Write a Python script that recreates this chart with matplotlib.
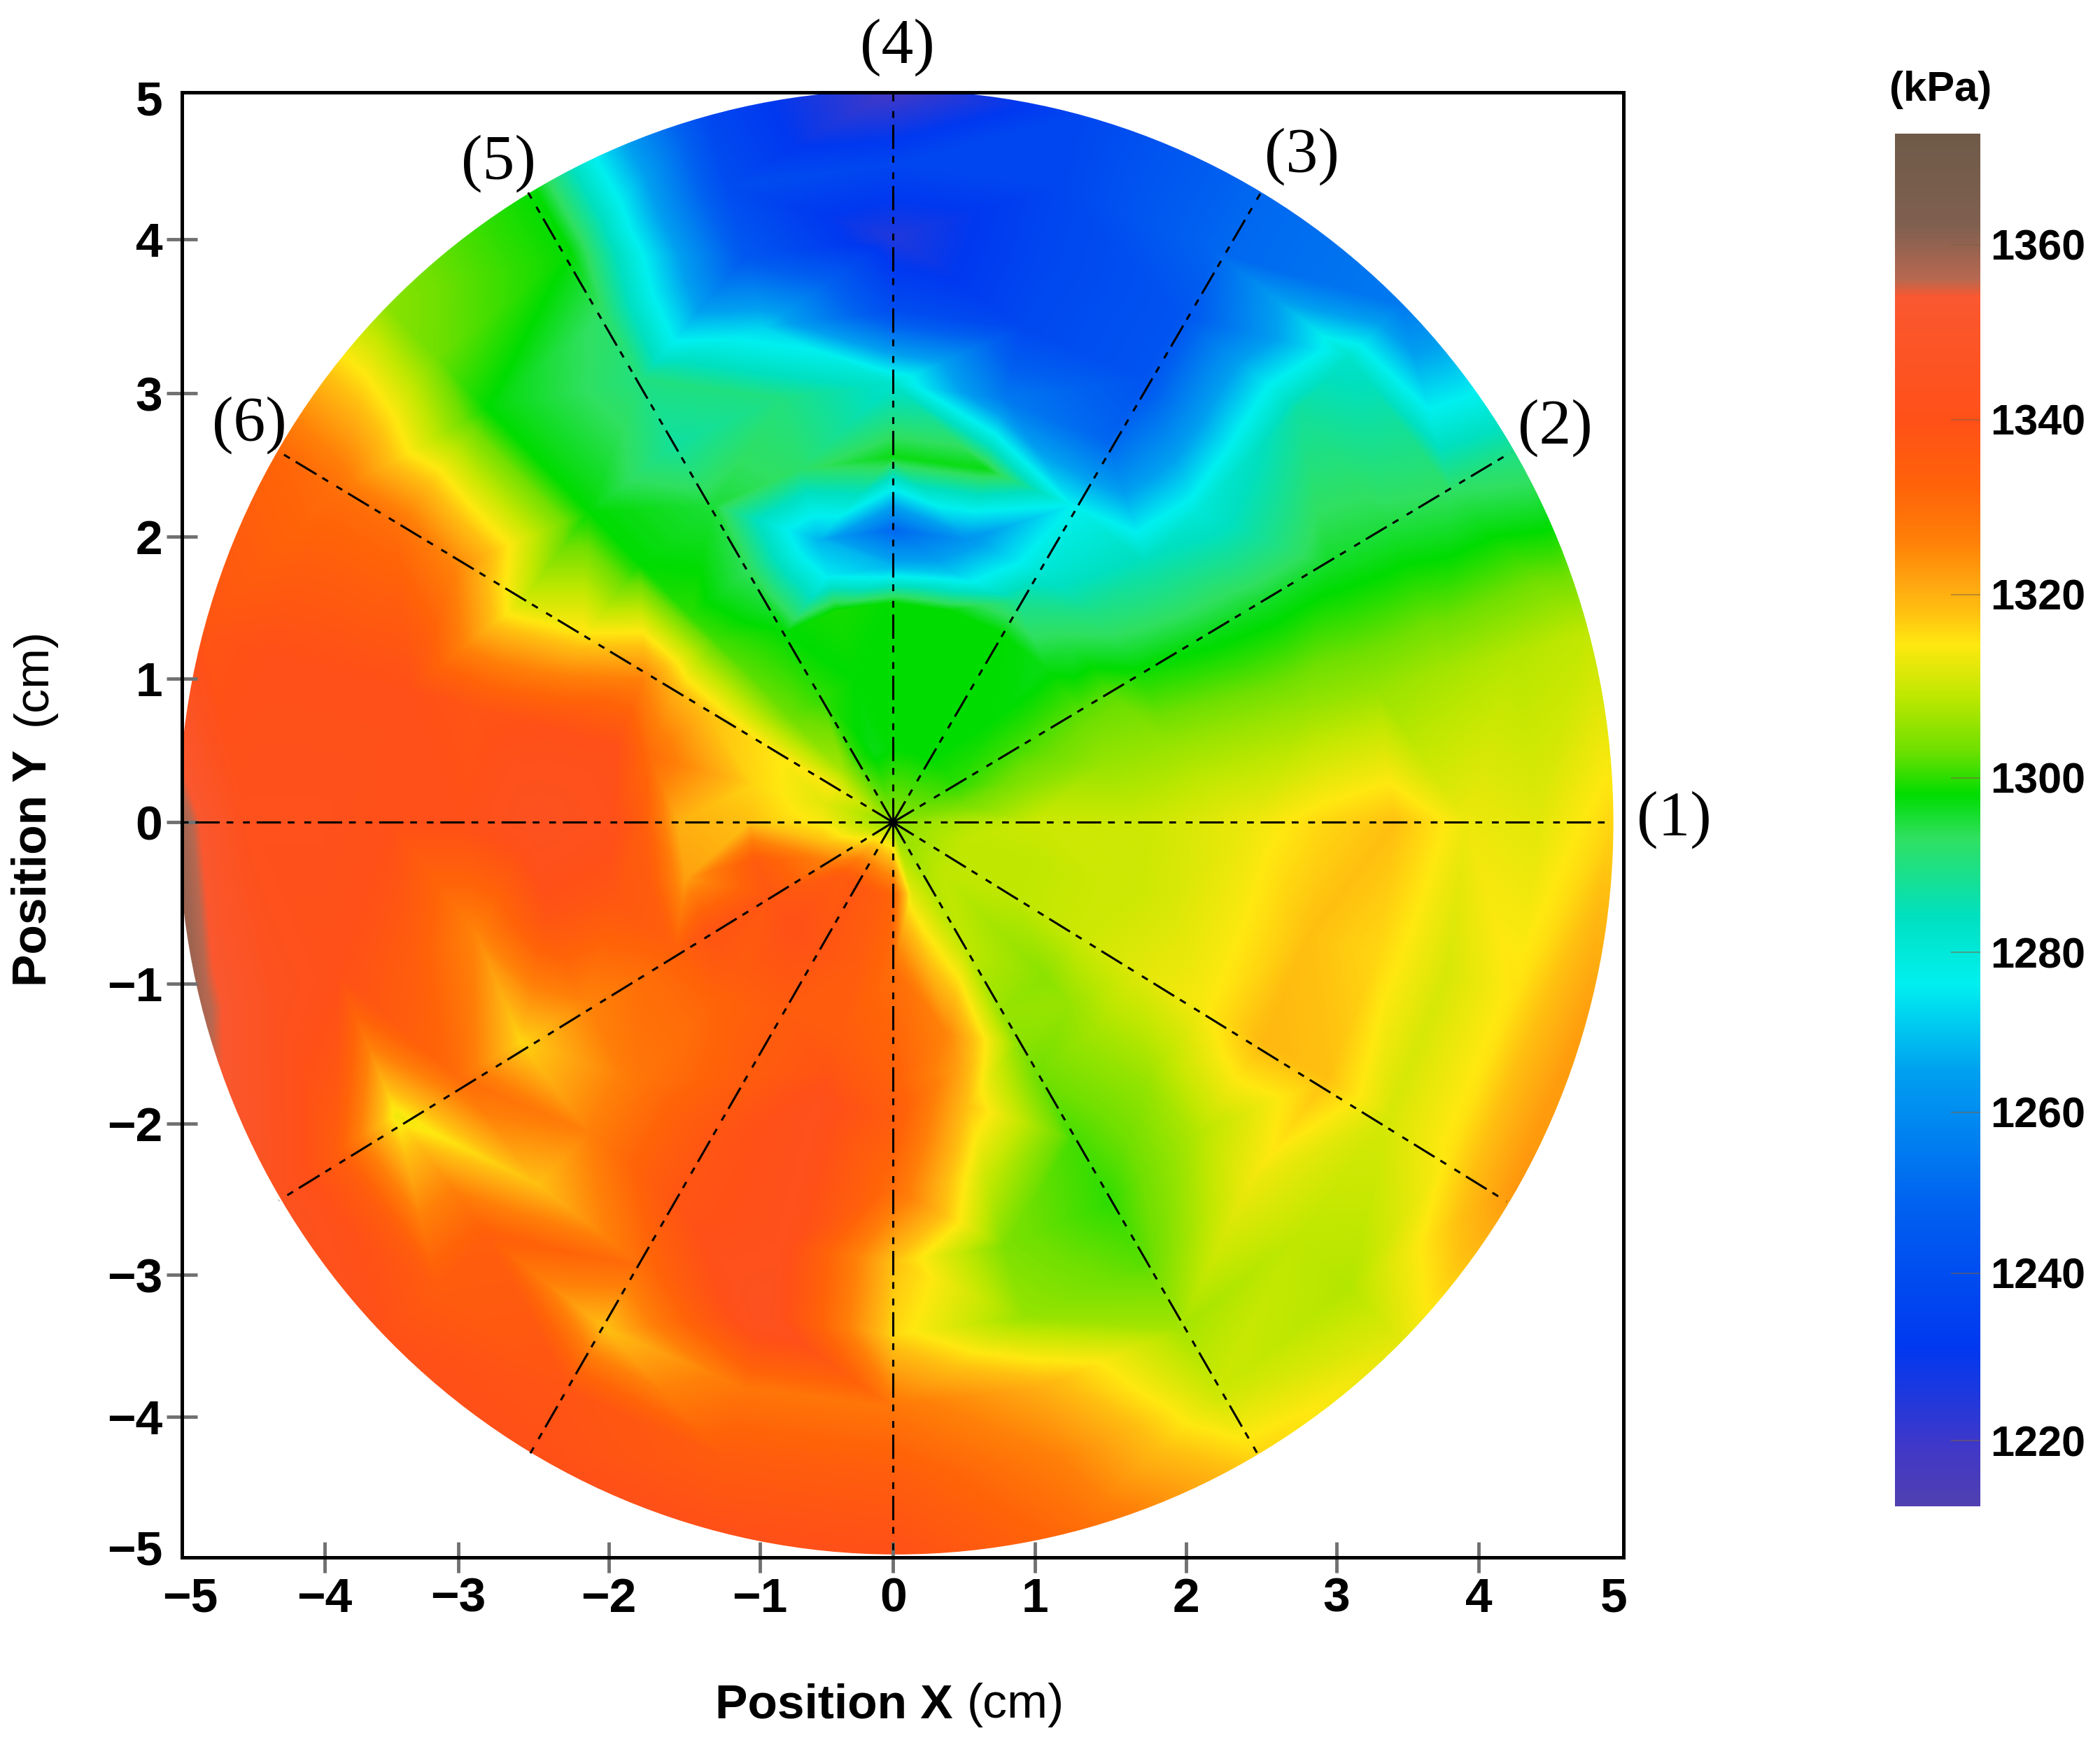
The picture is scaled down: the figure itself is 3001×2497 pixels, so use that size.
import numpy as np
import matplotlib
matplotlib.use("Agg")
import matplotlib.pyplot as plt
import matplotlib.tri as mtri
from matplotlib.colors import LinearSegmentedColormap, Normalize
from matplotlib.patches import Circle

plt.rcParams['lines.scale_dashes'] = False
SANS = 'Liberation Sans'
SERIF = 'Liberation Serif'

# pressure (kPa) read along spokes; columns are radii, rows are angles
radii = [0.5, 1.0, 1.5, 1.75, 2.0, 2.5, 3.0, 3.5, 4.0, 4.5, 5.0]
center_value = 1305
angles = list(range(0, 360, 15))
val_000 = [1308,1310,1310,1310,1311,1313,1316,1318,1313,1312,1316]
val_015 = [1303,1305,1306,1306,1306,1306,1306,1306,1307,1308,1309]
val_030 = [1300,1301,1302,1302,1299,1297,1296,1296,1295,1293,1290]
val_045 = [1299,1298,1297,1294,1290,1285,1280,1283,1287,1282,1255]
val_060 = [1298,1298,1298,1288,1280,1276,1250,1243,1243,1250,1250]
val_075 = [1298,1298,1298,1272,1262,1297,1255,1238,1237,1237,1237]
val_090 = [1298,1298,1298,1268,1250,1297,1282,1240,1225,1237,1218]
val_105 = [1297,1298,1299,1275,1268,1292,1290,1272,1245,1240,1238]
val_120 = [1300,1300,1298,1295,1293,1295,1287,1290,1292,1298,1298]
val_135 = [1307,1303,1302,1301,1300,1298,1298,1298,1298,1303,1305]
val_150 = [1314,1315,1318,1320,1325,1316,1311,1325,1330,1330,1332]
val_165 = [1312,1316,1325,1330,1340,1340,1338,1340,1340,1340,1338]
val_180 = [1314,1318,1320,1335,1342,1345,1340,1340,1342,1342,1360]
val_195 = [1318,1335,1322,1335,1337,1338,1325,1335,1340,1345,1358]
val_210 = [1325,1337,1338,1333,1330,1325,1316,1330,1313,1335,1345]
val_225 = [1335,1340,1335,1332,1330,1328,1326,1318,1334,1335,1340]
val_240 = [1337,1338,1335,1335,1335,1338,1338,1330,1318,1338,1340]
val_255 = [1335,1335,1335,1338,1342,1342,1342,1345,1328,1335,1340]
val_270 = [1332,1330,1332,1333,1335,1330,1318,1316,1328,1335,1340]
val_285 = [1312,1318,1325,1322,1318,1310,1304,1306,1320,1326,1330]
val_300 = [1308,1309,1306,1305,1303,1301,1300,1302,1307,1310,1316]
val_315 = [1309,1307,1305,1306,1307,1306,1308,1313,1309,1308,1312]
val_330 = [1309,1309,1310,1311,1312,1314,1319,1318,1311,1315,1323]
val_345 = [1309,1309,1310,1310,1311,1314,1318,1316,1311,1315,1322]
rows = [val_000,val_015,val_030,val_045,val_060,val_075,val_090,val_105,
        val_120,val_135,val_150,val_165,val_180,val_195,val_210,val_225,
        val_240,val_255,val_270,val_285,val_300,val_315,val_330,val_345]

# colour scale
stop_values = [1212,1219,1231,1248,1265,1276,1284,1293,1298,1303,1309,1314.5,1318,1321,1326,1332,1340,1354,1356,1362,1372]
stop_colors = ['#5040b0','#4038c8','#0038f0','#0060f0','#00a0f0','#00f0f0','#00e0c0','#30e060',
               '#00dc00','#70e000','#c0e800','#ffe810','#ffc010','#ffa810','#ff8008','#ff6408','#ff5018',
               '#fa5830','#b86850','#806050','#6e5a48']
cbar_ticks = [1220,1240,1260,1280,1300,1320,1340,1360]

x_tick_pos = [-4.90,-3.96,-3.03,-1.98,-0.93,0.0,0.99,2.04,3.09,4.08,5.02]
x_tick_lab = ['\u22125','\u22124','\u22123','\u22122','\u22121','0','1','2','3','4','5']
y_tick_pos = [4.95,3.98,2.93,1.95,0.98,0.0,-1.10,-2.06,-3.09,-4.06,-4.95]
y_tick_lab = ['5','4','3','2','1','0','\u22121','\u22122','\u22123','\u22124','\u22125']
spoke_angles = [0,30.4,59.2,90,120.6,149.4,180,211.1,239.6,270,300.5,328.8]
spoke_labels = ['(1)','(2)','(3)','(4)','(5)','(6)']

W, H = 3001, 2497
fig = plt.figure(figsize=(W/100, H/100), dpi=100, facecolor='white')
def axrect(l, t, r, b):
    return [l/W, 1-b/H, (r-l)/W, (b-t)/H]

ax = fig.add_axes(axrect(260, 132, 2320, 2226))

# field
R = np.array(radii + [5.6])
A = np.deg2rad(angles)
Z = np.array(rows, float)
Z = np.hstack([Z, Z[:, -1:]])
px = np.concatenate([[0.0], (R[None,:]*np.cos(A)[:,None]).ravel()])
py = np.concatenate([[0.0], (R[None,:]*np.sin(A)[:,None]).ravel()])
pz = np.concatenate([[center_value], Z.ravel()])
tri = mtri.Triangulation(px, py)
interp = mtri.LinearTriInterpolator(tri, pz)
gx, gy = np.meshgrid(np.linspace(-5.3, 5.3, 1400), np.linspace(-5.3, 5.3, 1400))
gz = interp(gx, gy)

vmin, vmax = stop_values[0], stop_values[-1]
norm = Normalize(vmin, vmax)
cmap = LinearSegmentedColormap.from_list(
    'pressure', [((v-vmin)/(vmax-vmin), c) for v, c in zip(stop_values, stop_colors)], N=1024)
im = ax.imshow(gz, extent=(-5.3, 5.3, -5.3, 5.3), origin='lower', cmap=cmap, norm=norm,
               aspect='auto', interpolation='bilinear', zorder=1)
clip = Circle((0.02, 0), 5.0, transform=ax.transData)
im.set_clip_path(clip)
ax.set_xlim(-4.956, 5.09)
ax.set_ylim(-5.02, 4.985)

# spokes
for a in spoke_angles:
    c, s = np.cos(np.deg2rad(a)), np.sin(np.deg2rad(a))
    ax.plot([0, 5*c], [0, 5*s], color='black', lw=2.2,
            linestyle=(0, (25, 7, 7, 10, 7, 7)), zorder=3)

for sp in ax.spines.values():
    sp.set_linewidth(3.6)
    sp.set_zorder(4)
ax.set_xticks(x_tick_pos)
ax.set_xticklabels(x_tick_lab, fontfamily=SANS, fontweight='bold', fontsize=50)
ax.set_yticks(y_tick_pos)
ax.set_yticklabels(y_tick_lab, fontfamily=SANS, fontweight='bold', fontsize=50)
ax.tick_params(axis='both', direction='inout', length=32, width=3.5, color='#707070', pad=4)
for axis in (ax.xaxis, ax.yaxis):
    ticks = axis.get_major_ticks()
    for t in (ticks[0], ticks[-1]):
        t.tick1line.set_visible(False)
        t.tick2line.set_visible(False)

# axis titles
fig.text(1022/W, 1-2437/H, 'Position X', fontfamily=SANS, fontweight='bold', fontsize=50, va='center', ha='left')
fig.text(1382/W, 1-2437/H, '(cm)', fontfamily=SANS, fontsize=50, va='center', ha='left')
fig.text(48/W, 1-1410/H, 'Position Y', fontfamily=SANS, fontweight='bold', fontsize=50, va='bottom', ha='center', rotation=90)
fig.text(48/W, 1-1037/H, '(cm)', fontfamily=SANS, fontsize=50, va='bottom', ha='center', rotation=90)

# spoke labels
label_xy = [(2392,1172),(2222,612),(1860,224),(1282,68),(712,234),(356,608)]
for (lx, ly), s in zip(label_xy, spoke_labels):
    fig.text(lx/W, 1-ly/H, s, fontfamily=SERIF, fontsize=66, ha='center', va='center')

# colour bar
cax = fig.add_axes(axrect(2708, 191, 2830, 2153))
cb_vals = np.linspace(vmin, vmax, 800)
cb_px = np.array([2153,2059,1820,1590,1361,1112,850,600,350,191])
cb_at = np.array([1212,1220,1240,1260,1280,1300,1320,1340,1360,1372])
fwd = lambda v: np.interp(v, cb_at, 2153-cb_px)
inv = lambda p: np.interp(p, 2153-cb_px, cb_at)
cax.set_yscale('function', functions=(fwd, inv))
cax.pcolormesh([0, 1], cb_vals, cb_vals[:-1, None], cmap=cmap, norm=norm, rasterized=True)
cax.set_ylim(vmin, vmax)
cax.set_xlim(0, 1)
cax.set_xticks([])
for sp in cax.spines.values():
    sp.set_visible(False)
cax.yaxis.tick_right()
cax.set_yticks(cbar_ticks)
cax.set_yticklabels([str(v) for v in cbar_ticks], fontfamily=SANS, fontweight='bold', fontsize=44)
cax.minorticks_off()
cax.tick_params(axis='y', direction='in', length=30, width=1.5, color='#80604080', pad=10)
fig.text(2773/W, 1-128/H, '(kPa)', fontfamily=SANS, fontweight='bold', fontsize=43, ha='center', va='center')

fig.savefig('out.png', dpi=100)
